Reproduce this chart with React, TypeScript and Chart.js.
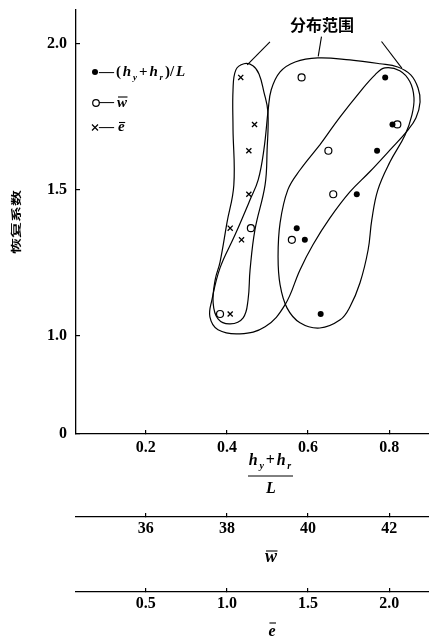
import React, { useEffect, useRef } from "react";
import { Chart, registerables } from "chart.js";

Chart.register(...registerables);

// ---------------- data ----------------
// recovery coefficient of the seven tests (shared by the three markers)
const recoveryCoef = [1.885, 1.724, 1.634, 1.485, 1.369, 1.329, 1.075];
// (h_y + h_r) / L  -> filled circles
const heightRatio = [0.79, 0.808, 0.77, 0.72, 0.572, 0.592, 0.631];
// mean w  -> open circles
const wBar = [39.84, 42.2, 40.5, 40.62, 38.59, 39.6, 37.83];
// mean e  -> crosses
const eBar = [1.085, 1.17, 1.135, 1.135, 1.02, 1.09, 1.02];

const xTickValues = [0.2, 0.4, 0.6, 0.8];
const wTickValues = [36, 38, 40, 42];
const eTickValues = [0.5, 1.0, 1.5, 2.0];
const yTickValues = [1.0, 1.5, 2.0];
const yOriginLabel = "0";

const xRange = [0.028, 0.898];
const wRange = [34.28, 42.98];
const eRange = [0.07, 2.245];
const yRange = [0.664, 2.116]; // broken axis: bottom edge is labelled "0"

const yTitle = "恢复系数";
const regionLabel = "分布范围";
const regionLabelAt = [0.634, 2.065];

// distribution range outlines, in (h_y+h_r)/L units
const regionE: number[][] = [
  [0.415, 1.705], [0.415, 1.842], [0.422, 1.911], [0.442, 1.932], [0.464, 1.925],
  [0.479, 1.897], [0.491, 1.836], [0.501, 1.767], [0.499, 1.637], [0.494, 1.517],
  [0.469, 1.363], [0.457, 1.226], [0.452, 1.123], [0.44, 1.062], [0.408, 1.041],
  [0.378, 1.058], [0.366, 1.113], [0.371, 1.192], [0.383, 1.253], [0.4, 1.387],
  [0.417, 1.517],
];
const regionW: number[][] = [
  [0.501, 1.767], [0.509, 1.842], [0.531, 1.904], [0.568, 1.938], [0.624, 1.952],
  [0.703, 1.945], [0.777, 1.932], [0.821, 1.921], [0.853, 1.894], [0.871, 1.849],
  [0.876, 1.801], [0.866, 1.747], [0.846, 1.705], [0.802, 1.637], [0.752, 1.562],
  [0.703, 1.493], [0.654, 1.404], [0.612, 1.312], [0.58, 1.226], [0.543, 1.106],
  [0.494, 1.031], [0.432, 1.007], [0.378, 1.021], [0.358, 1.065], [0.363, 1.123],
  [0.383, 1.233], [0.42, 1.346], [0.457, 1.466], [0.477, 1.534], [0.491, 1.637],
];
const regionH: number[][] = [
  [0.629, 1.654], [0.679, 1.75], [0.728, 1.836], [0.765, 1.894], [0.789, 1.918],
  [0.826, 1.908], [0.851, 1.87], [0.861, 1.815], [0.856, 1.757], [0.839, 1.688],
  [0.802, 1.596], [0.772, 1.5], [0.757, 1.397], [0.748, 1.295], [0.728, 1.182],
  [0.703, 1.099], [0.679, 1.055], [0.629, 1.027], [0.58, 1.045], [0.548, 1.096],
  [0.531, 1.175], [0.526, 1.271], [0.531, 1.387], [0.55, 1.5], [0.58, 1.568],
];
const leaderLines: number[][][] = [
  [[0.506, 2.007], [0.45, 1.928]],
  [[0.633, 2.025], [0.625, 1.957]],
  [[0.781, 2.008], [0.831, 1.917]],
];

// ---------------- helpers ----------------
const SERIF = '"Liberation Serif", "Times New Roman", serif';
const CJK = '"Noto Sans CJK SC", sans-serif';

const pts = (xs: number[], ys: number[]) => xs.map((x, i) => ({ x, y: ys[i] }));
const loop = (arr: number[][]) => [...arr, arr[0]].map(([x, y]) => ({ x, y }));

type Part = [string, "n" | "i" | "s"];
function setFont(ctx: CanvasRenderingContext2D, k: string, size: number) {
  if (k === "n") ctx.font = `bold ${size}px ${SERIF}`;
  else if (k === "i") ctx.font = `italic bold ${size}px ${SERIF}`;
  else ctx.font = `italic bold ${Math.round(size * 0.62)}px ${SERIF}`;
}
function richWidth(ctx: CanvasRenderingContext2D, parts: Part[], size: number, gap: number) {
  let w = 0;
  parts.forEach(([t, k], i) => {
    setFont(ctx, k, size);
    w += ctx.measureText(t).width + (i ? gap : 0);
  });
  return w;
}
function drawRich(ctx: CanvasRenderingContext2D, parts: Part[], x: number, base: number, size: number, gap: number) {
  let cx = x;
  parts.forEach(([t, k]) => {
    setFont(ctx, k, size);
    ctx.fillText(t, cx, base + (k === "s" ? size * 0.28 : 0));
    cx += ctx.measureText(t).width + gap;
  });
  return cx;
}
function drawOverChar(ctx: CanvasRenderingContext2D, ch: string, x: number, base: number, size: number, lineY: number, center = false) {
  ctx.font = `italic bold ${size}px ${SERIF}`;
  const w = ctx.measureText(ch).width;
  const x0 = center ? x - w / 2 : x;
  ctx.fillText(ch, x0, base);
  ctx.beginPath();
  ctx.lineWidth = 1.1;
  ctx.moveTo(x0 + 1, lineY);
  ctx.lineTo(x0 + w + 0.5, lineY);
  ctx.stroke();
}

const overlayPlugin = {
  id: "overlay",
  afterDraw(chart: any) {
    const { ctx, chartArea, scales } = chart;
    const xs = scales.x;
    const ys = scales.y;
    ctx.save();
    ctx.fillStyle = "#000";
    ctx.strokeStyle = "#000";
    ctx.textAlign = "left";
    ctx.textBaseline = "alphabetic";

    // y-axis title (rotated, narrow CJK glyphs)
    ctx.save();
    ctx.translate(chartArea.left - 60, (chartArea.top + chartArea.bottom) / 2);
    ctx.rotate(-Math.PI / 2);
    ctx.scale(1, 0.62);
    ctx.font = `bold 16px ${CJK}`;
    ctx.textAlign = "center";
    ctx.textBaseline = "middle";
    ctx.fillText(yTitle, 0, 0);
    ctx.restore();

    // region label
    ctx.save();
    ctx.font = `bold 16px ${CJK}`;
    ctx.textAlign = "center";
    ctx.textBaseline = "middle";
    ctx.fillText(regionLabel, xs.getPixelForValue(regionLabelAt[0]), ys.getPixelForValue(regionLabelAt[1]));
    ctx.restore();

    // legend
    const lx = chartArea.left + 19;
    const top = chartArea.top;
    // row 1
    ctx.beginPath();
    ctx.arc(lx, top + 62, 3, 0, Math.PI * 2);
    ctx.fill();
    drawRich(
      ctx,
      [["—", "n"], ["(", "n"], ["h", "i"], ["y", "s"], ["+", "n"], ["h", "i"], ["r", "s"], [")/", "n"], ["L", "i"]],
      lx + 4,
      top + 66,
      15,
      1.9
    );
    // row 2
    ctx.beginPath();
    ctx.lineWidth = 1.2;
    ctx.arc(lx + 1, top + 93, 3.3, 0, Math.PI * 2);
    ctx.stroke();
    ctx.font = `bold 15px ${SERIF}`;
    ctx.fillText("—", lx + 4, top + 96);
    drawOverChar(ctx, "w", lx + 22, top + 97, 15, top + 87);
    // row 3
    ctx.beginPath();
    ctx.lineWidth = 1.2;
    const cy3 = top + 117.5;
    ctx.moveTo(lx - 3, cy3 - 3); ctx.lineTo(lx + 3, cy3 + 3);
    ctx.moveTo(lx + 3, cy3 - 3); ctx.lineTo(lx - 3, cy3 + 3);
    ctx.stroke();
    ctx.font = `bold 15px ${SERIF}`;
    ctx.fillText("—", lx + 4, top + 121);
    drawOverChar(ctx, "e", lx + 23, top + 121, 15, top + 112.5);

    // x title: fraction (h_y+h_r)/L
    const cx = chartArea.left + 194;
    const xt = scales.x.top;
    const num: Part[] = [["h", "i"], ["y", "s"], ["+", "n"], ["h", "i"], ["r", "s"]];
    const nw = richWidth(ctx, num, 16, 1.8);
    drawRich(ctx, num, cx - nw / 2, xt + 31, 16, 1.8);
    ctx.beginPath();
    ctx.lineWidth = 1;
    ctx.moveTo(cx - 22, xt + 42);
    ctx.lineTo(cx + 23, xt + 42);
    ctx.stroke();
    ctx.font = `italic bold 16px ${SERIF}`;
    ctx.textAlign = "center";
    ctx.fillText("L", cx + 1, xt + 59);
    ctx.textAlign = "left";

    // w axis title
    const wt = scales.xw.top;
    drawOverChar(ctx, "w", cx + 1, wt + 45, 18, wt + 34, true);
    // e axis title
    const et = scales.xe.top;
    drawOverChar(ctx, "e", cx + 2, et + 44, 16, et + 31, true);

    ctx.restore();
  },
};

function bottomAxis(range: number[], ticks: number[], fmt: (v: number) => string, pad: number, height: number, weight: number) {
  return {
    type: "linear",
    position: "bottom",
    min: range[0],
    max: range[1],
    weight,
    grid: { drawOnChartArea: false, drawTicks: true, tickLength: -4, color: "#000", tickColor: "#000", lineWidth: 1.2 },
    border: { display: true, color: "#000", width: 1.3 },
    ticks: {
      color: "#000",
      font: { family: SERIF, size: 16, weight: "bold" },
      padding: pad,
      maxRotation: 0,
      autoSkip: false,
      callback: (v: number) => fmt(v),
    },
    afterBuildTicks: (s: any) => {
      s.ticks = ticks.map((v) => ({ value: v }));
    },
    afterFit: (s: any) => {
      s.height = height;
      s.paddingLeft = 0;
      s.paddingRight = 0;
      s.paddingTop = 0;
      s.paddingBottom = 0;
    },
  };
}

export default function App() {
  const ref = useRef<HTMLCanvasElement>(null);

  useEffect(() => {
    const canvas = ref.current;
    if (!canvas) return;
    const outline = (data: number[][], label: string) => ({
      label,
      data: loop(data),
      showLine: true,
      tension: 0.4,
      borderColor: "#000",
      borderWidth: 1.2,
      pointRadius: 0,
      xAxisID: "x",
      yAxisID: "y",
    });
    const chart = new Chart(canvas, {
      type: "scatter",
      data: {
        datasets: [
          outline(regionH, "range (h)"),
          outline(regionW, "range (w)"),
          outline(regionE, "range (e)"),
          ...leaderLines.map((l, i) => ({
            label: "leader " + i,
            data: l.map(([x, y]) => ({ x, y })),
            showLine: true,
            tension: 0,
            borderColor: "#000",
            borderWidth: 1.1,
            pointRadius: 0,
            xAxisID: "x",
            yAxisID: "y",
          })),
          {
            label: "(hy+hr)/L",
            data: pts(heightRatio, recoveryCoef),
            pointStyle: "circle",
            pointRadius: 3,
            pointBackgroundColor: "#000",
            pointBorderColor: "#000",
            pointBorderWidth: 0,
            xAxisID: "x",
            yAxisID: "y",
          },
          {
            label: "w",
            data: pts(wBar, recoveryCoef),
            pointStyle: "circle",
            pointRadius: 3.5,
            pointBackgroundColor: "#fff",
            pointBorderColor: "#000",
            pointBorderWidth: 1.2,
            xAxisID: "xw",
            yAxisID: "y",
          },
          {
            label: "e",
            data: pts(eBar, recoveryCoef),
            pointStyle: "crossRot",
            pointRadius: 3.6,
            pointBorderColor: "#000",
            pointBorderWidth: 1.3,
            xAxisID: "xe",
            yAxisID: "y",
          },
        ],
      } as any,
      options: {
        responsive: false,
        animation: false,
        devicePixelRatio: 1,
        events: [],
        layout: { autoPadding: false, padding: { top: 10, left: 0, right: 0, bottom: 0 } },
        plugins: { legend: { display: false }, tooltip: { enabled: false } },
        scales: {
          x: bottomAxis(xRange, xTickValues, (v) => v.toFixed(1), 8, 83, 0),
          xw: bottomAxis(wRange, wTickValues, (v) => String(v), 6, 75, 1),
          xe: bottomAxis(eRange, eTickValues, (v) => v.toFixed(1), 6, 46, 2),
          y: {
            type: "linear",
            position: "left",
            min: yRange[0],
            max: yRange[1],
            grid: { drawOnChartArea: false, drawTicks: true, tickLength: -4, color: "#000", tickColor: "#000", lineWidth: 1.2 },
            border: { display: true, color: "#000", width: 1.3 },
            ticks: {
              color: "#000",
              font: { family: SERIF, size: 16, weight: "bold" },
              padding: 13,
              autoSkip: false,
              callback: (v: number) => (v === yRange[0] ? yOriginLabel : v.toFixed(1)),
            },
            afterBuildTicks: (s: any) => {
              s.ticks = [yRange[0], ...yTickValues].map((v) => ({ value: v }));
            },
            afterFit: (s: any) => {
              s.width = 76;
              s.paddingTop = 0;
              s.paddingBottom = 0;
            },
          },
        },
      } as any,
      plugins: [overlayPlugin],
    });
    return () => chart.destroy();
  }, []);

  return (
    <div style={{ position: "absolute", left: 0, top: 0, width: 429, height: 638, background: "#fff" }}>
      <canvas ref={ref} width={429} height={638} style={{ display: "block", width: 429, height: 638 }} />
    </div>
  );
}
